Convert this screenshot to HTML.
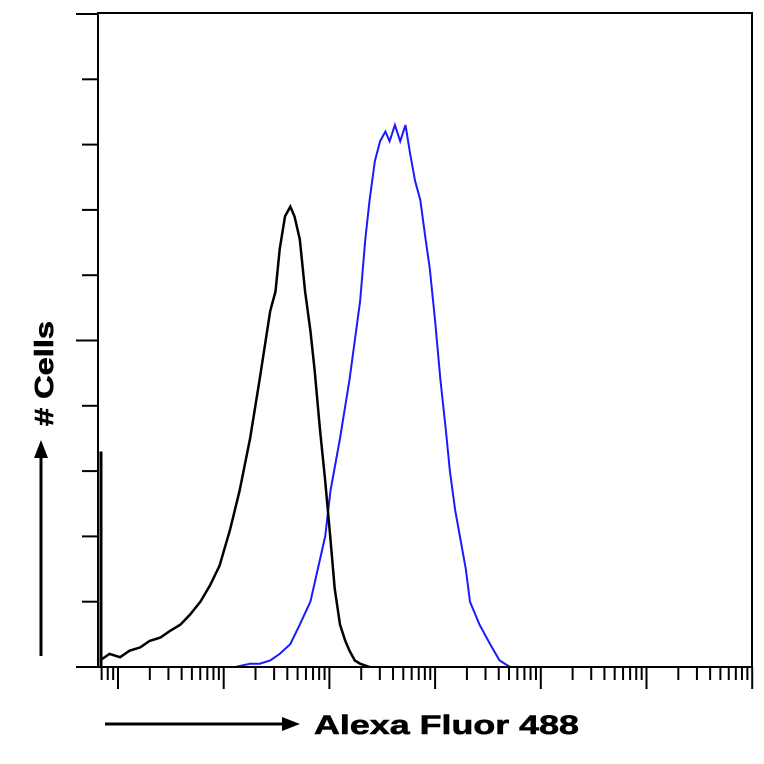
<!DOCTYPE html>
<html><head><meta charset="utf-8"><style>
html,body{margin:0;padding:0;background:#fff;}
svg{display:block;font-family:"Liberation Sans",sans-serif;}
</style></head><body>
<svg id="chart" width="764" height="764" viewBox="0 0 764 764">
<rect x="0" y="0" width="764" height="764" fill="#fff"/>
<g id="marks"></g>
<rect x="98" y="13" width="654" height="654" fill="none" stroke="#000" stroke-width="2"/>
<g id="yticks"></g>
<g id="xticks"></g>
<g>
<line x1="41" y1="656" x2="41" y2="455" stroke="#000" stroke-width="3"/>
<polygon points="41,440 34,458 48,458" fill="#000"/>
<text x="0" y="0" transform="translate(53,426) rotate(-90)" font-size="26" font-weight="bold" fill="#000" stroke="#000" stroke-width="0.6" textLength="105" lengthAdjust="spacingAndGlyphs"># Cells</text>
</g>
<g>
<line x1="105" y1="724" x2="285" y2="724" stroke="#000" stroke-width="3"/>
<polygon points="300,724 282,717 282,731" fill="#000"/>
<text x="314" y="734" font-size="27" font-weight="bold" fill="#000" stroke="#000" stroke-width="0.6" textLength="265" lengthAdjust="spacingAndGlyphs">Alexa Fluor 488</text>
</g>
</svg>
<script>
const blackX=[-0.17,-0.08,0.02,0.11,0.21,0.30,0.40,0.49,0.59,0.68,0.78,0.87,0.96,1.06,1.15,1.25,1.34,1.44,1.49,1.53,1.58,1.63,1.67,1.72,1.77,1.82,1.86,1.91,1.96,2.01,2.05,2.10,2.15,2.19,2.24,2.29,2.38];
const blackCounts=[2,4,3,5,6,8,9,11,13,16,20,25,31,42,54,70,88,109,115,128,138,141,138,131,115,103,91,73,57,39,24,13,8,5,2,1,0];
const blueX=[1.11,1.25,1.34,1.44,1.53,1.63,1.72,1.82,1.89,1.96,2.01,2.10,2.19,2.29,2.34,2.38,2.43,2.48,2.53,2.57,2.62,2.67,2.72,2.76,2.81,2.86,2.91,2.95,3.00,3.05,3.10,3.14,3.19,3.24,3.29,3.33,3.42,3.52,3.61,3.71];
const blueCounts=[0,1,1,2,4,7,13,20,30,40,54,70,88,112,131,143,155,161,164,161,166,161,166,158,149,143,131,122,106,88,73,60,48,39,30,20,13,7,2,0];
const firstBinCount=66;
const yTickCounts=[0,20,40,60,80,100,120,140,160,180,200];
const decades=[0,1,2,3,4,5,6];

const X0=118,DEC=105.7,YB=667,YS=653/200;
const xs=v=>X0+v*DEC;
const ys=c=>YB-c*YS;
const NS="http://www.w3.org/2000/svg";
const marks=document.getElementById('marks');
function path(xa,ca,color,name,w){
  const p=document.createElementNS(NS,'polyline');
  p.setAttribute('points',xa.map((v,i)=>xs(v).toFixed(1)+','+ys(ca[i]).toFixed(1)).join(' '));
  p.setAttribute('fill','none');p.setAttribute('stroke',color);p.setAttribute('stroke-width',w);
  
  
  marks.appendChild(p);
}
path(blueX,blueCounts,'#1a1aff','blue-histogram','2');
path(blackX,blackCounts,'#000','black-histogram','2.5');
const sp=document.createElementNS(NS,'line');
sp.setAttribute('x1',101);sp.setAttribute('x2',101);
sp.setAttribute('y1',ys(firstBinCount));sp.setAttribute('y2',YB);
sp.setAttribute('stroke','#000');sp.setAttribute('stroke-width','3');


marks.appendChild(sp);

const yt=document.getElementById('yticks');
yTickCounts.forEach((c,i)=>{
  const l=document.createElementNS(NS,'line');
  const major=(i===0||i===5||i===10);
  l.setAttribute('x1',major?76:82);l.setAttribute('x2',98);
  l.setAttribute('y1',ys(c));l.setAttribute('y2',ys(c));
  l.setAttribute('stroke','#000');l.setAttribute('stroke-width','2');
  
  
  yt.appendChild(l);
});
const xt=document.getElementById('xticks');
function xtick(v,len){
  const x=xs(v);if(x<98||x>753)return;
  const l=document.createElementNS(NS,'line');
  l.setAttribute('x1',x);l.setAttribute('x2',x);
  l.setAttribute('y1',667);l.setAttribute('y2',667+len);
  l.setAttribute('stroke','#000');l.setAttribute('stroke-width','2');
  
  
  xt.appendChild(l);
}
decades.forEach(d=>{
  xtick(d,22);
  if(d<6)for(let m=2;m<10;m++)xtick(d+Math.log10(m),13);
  if(d===0)for(let m=2;m<10;m++)xtick(-1+Math.log10(m),13);
});
</script>
</body></html>
